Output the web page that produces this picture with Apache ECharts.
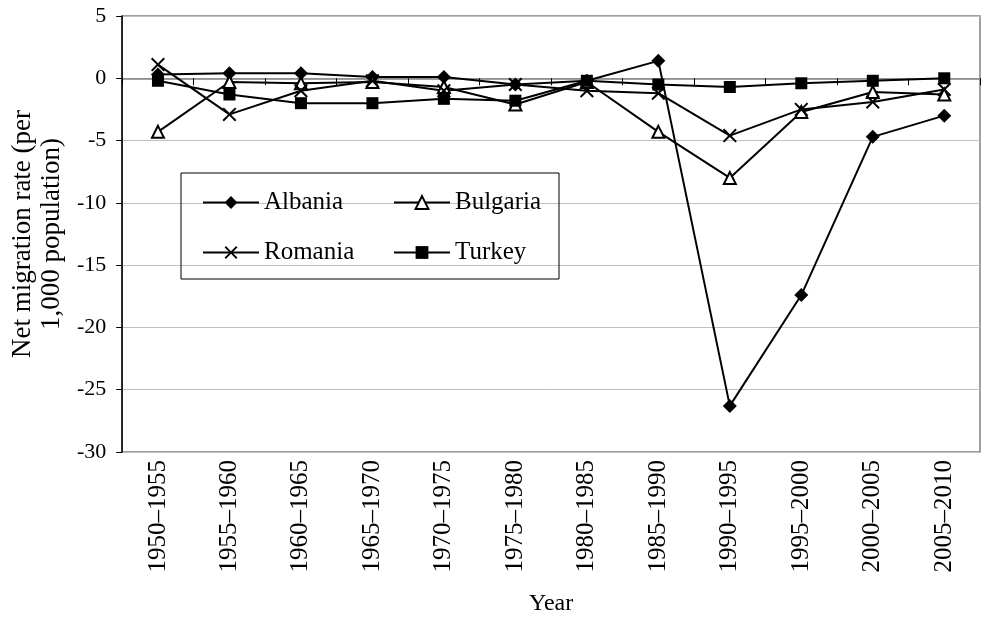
<!DOCTYPE html>
<html>
<head>
<meta charset="utf-8">
<script src="https://cdn.jsdelivr.net/npm/echarts@6/dist/echarts.min.js"></script>
<style>
  html, body { margin: 0; padding: 0; background: #fff; }
  #chart { width: 984px; height: 621px; }
</style>
</head>
<body>
<div id="chart"></div>
<script>
// periods on the category axis
var years = ['1950–1955', '1955–1960', '1960–1965', '1965–1970', '1970–1975', '1975–1980',
             '1980–1985', '1985–1990', '1990–1995', '1995–2000', '2000–2005', '2005–2010'];

// net migration rate per 1,000 population
var albania  = [0.3, 0.4, 0.4, 0.1, 0.1, -0.5, -0.2, 1.4, -26.3, -17.4, -4.7, -3.0];
var bulgaria = [-4.3, -0.3, -0.4, -0.3, -0.7, -2.1, -0.3, -4.3, -8.0, -2.7, -1.1, -1.3];
var romania  = [1.1, -2.9, -1.0, -0.2, -1.0, -0.5, -1.0, -1.2, -4.6, -2.5, -1.9, -0.9];
var turkey   = [-0.2, -1.3, -2.0, -2.0, -1.65, -1.8, -0.2, -0.5, -0.7, -0.4, -0.2, 0.0];

var FONT = 'Liberation Serif';
var crossPath = 'path://M0,1 L1,0 L5,4 L9,0 L10,1 L6,5 L10,9 L9,10 L5,6 L1,10 L0,9 L4,5 Z';

function lineSeries(name, data, symbol, size, fill) {
    return {
        name: name,
        type: 'line',
        data: data,
        symbol: symbol,
        symbolSize: size,
        showAllSymbol: true,
        lineStyle: { color: '#000', width: 2 },
        itemStyle: fill === 'hollow'
            ? { color: '#fff', borderColor: '#000', borderWidth: 2 }
            : { color: '#000', borderWidth: 0 }
    };
}

var chart = echarts.init(document.getElementById('chart'));
chart.setOption({
    animation: false,
    backgroundColor: '#fff',
    textStyle: { fontFamily: FONT, color: '#000' },
    grid: {
        left: 120, right: 4, top: 16, bottom: 167,
        show: true, borderColor: '#808080', borderWidth: 1.5
    },
    legend: {
        data: ['Albania', 'Bulgaria', 'Romania', 'Turkey'],
        left: 181,
        top: 173,
        width: 370,
        orient: 'horizontal',
        itemWidth: 56,
        itemHeight: 16,
        itemGap: 25,
        padding: [17, 0, 14, 21],
        borderColor: '#000',
        borderWidth: 1,
        textStyle: { fontFamily: FONT, fontSize: 25, color: '#000', width: 104, lineHeight: 21 }
    },
    xAxis: [{
        type: 'category',
        data: years,
        position: 'bottom',
        boundaryGap: true,
        axisLine: { show: false, onZero: false },
        axisTick: { show: false },
        axisLabel: { interval: 0, rotate: 90, margin: 8, fontFamily: FONT, fontSize: 25, color: '#000' },
        name: 'Year',
        nameLocation: 'middle',
        nameGap: 140,
        nameTextStyle: { fontFamily: FONT, fontSize: 24, color: '#000' }
    }, {
        type: 'category',
        data: years,
        position: 'top',
        boundaryGap: true,
        axisLine: { show: true, onZero: true, lineStyle: { color: '#808080', width: 1.5 } },
        axisTick: { show: true, inside: true, length: 7, lineStyle: { color: '#000' } },
        axisLabel: { show: false }
    }],
    yAxis: {
        type: 'value',
        min: -30,
        max: 5,
        interval: 5,
        axisLine: { show: true, lineStyle: { color: '#000', width: 1.5 } },
        axisTick: { show: true, length: 6, lineStyle: { color: '#000' } },
        axisLabel: { margin: 16, fontFamily: FONT, fontSize: 22, color: '#000' },
        splitLine: { show: true, lineStyle: { color: '#c0c0c0', width: 1 } },
        name: 'Net migration rate (per\n1,000 population)',
        nameLocation: 'middle',
        nameRotate: 90,
        nameGap: 54,
        nameTextStyle: { fontFamily: FONT, fontSize: 27, lineHeight: 29, color: '#000' }
    },
    series: [
        lineSeries('Albania', albania, 'diamond', 14, 'solid'),
        lineSeries('Bulgaria', bulgaria, 'triangle', 12, 'hollow'),
        lineSeries('Romania', romania, crossPath, 14, 'solid'),
        lineSeries('Turkey', turkey, 'rect', 12, 'solid')
    ]
});
</script>
</body>
</html>
